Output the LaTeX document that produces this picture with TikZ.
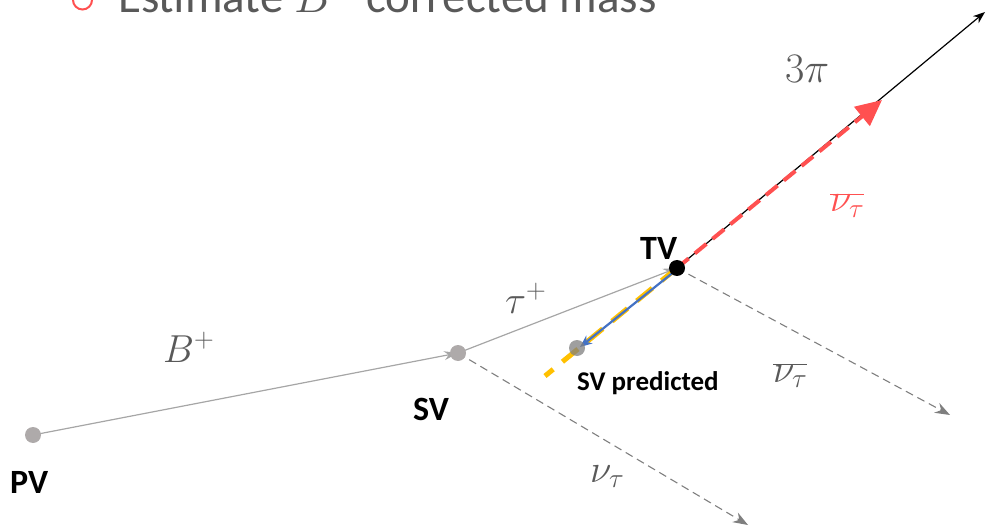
\RequirePackage{fix-cm}
\documentclass[tikz,border=0pt]{standalone}
\usepackage{fontspec}
\setmainfont{Carlito}
\usetikzlibrary{arrows.meta}
\definecolor{lgray}{HTML}{A6A6A6}
\definecolor{dgray}{HTML}{7F7F7F}
\definecolor{tgray}{HTML}{595959}
\definecolor{myred}{HTML}{FF5050}
\definecolor{myyel}{HTML}{FFC000}
\definecolor{myblue}{HTML}{4472C4}
\definecolor{dotgray}{HTML}{AEAAAA}
\begin{document}
\begin{tikzpicture}[x=1pt,y=-1pt,
  vdot/.style={circle, fill=dotgray, inner sep=0pt, minimum size=16pt},
  vlabel/.style={anchor=base west, inner sep=0pt, font=\bfseries\fontsize{34}{40}\selectfont},
  mlabel/.style={anchor=base west, inner sep=0pt, text=tgray, font=\fontsize{39}{42}\selectfont},
  track/.style={draw=lgray, line width=1.2pt, -{Stealth[length=14pt,width=9pt]}},
  nuline/.style={draw=dgray, line width=1.1pt, dash pattern=on 8pt off 5pt, -{Stealth[length=15pt,width=11pt]}}]
\clip (0,0) rectangle (990,529);
% positions
\coordinate (PV) at (33,435);
\coordinate (SV) at (458,353);
\coordinate (TV) at (677,268);
\coordinate (SVP) at (577,348);
\coordinate (pi3) at (985,12);
\coordinate (nubarR) at (882,100);
\coordinate (nubar) at (950,415);
\coordinate (nu) at (748,525);
\coordinate (yelend) at (545,376);
\coordinate (bluestart) at (675,271);
\coordinate (blueend) at (580,347);
% title
\node[circle, draw=myred, line width=2pt, minimum size=19pt, inner sep=0pt] (bullet) at (82.5,0) {};
\node[anchor=base west, inner sep=0pt, text=tgray, font=\fontsize{47}{50}\selectfont] (title) at (118,13) {Estimate $B^+$ corrected mass};
% tracks
\draw[track] (PV) -- (SV);
\draw[track] (SV) -- (TV);
\draw[nuline] (SV) -- (nu);
\draw[nuline] (TV) -- (nubar);
\draw[black, line width=1.2pt, -{Stealth[length=12pt,width=9pt]}] (TV) -- (pi3);
\draw[myred, line width=4pt, dash pattern=on 15pt off 8pt, -{Triangle[length=26pt,width=24pt]}] (TV) -- (nubarR);
\draw[myyel, line width=5pt, dash pattern=on 20pt off 12pt] (TV) -- (yelend);
\draw[myblue, line width=2.2pt, -{Stealth[length=12pt,width=10pt]}] (bluestart) -- (blueend);
% vertices
\node[vdot] (pvdot) at (PV) {};
\node[vdot] (svdot) at (SV) {};
\node[circle, fill=black, inner sep=0pt, minimum size=16pt] (tvdot) at (TV) {};
\node[circle, fill=dgray, fill opacity=0.75, inner sep=0pt, minimum size=16pt] (svpdot) at (SVP) {};
% labels
\node[vlabel] (pvl) at (10,493) {PV};
\node[vlabel] (svl) at (413,420) {SV};
\node[vlabel] (tvl) at (640,260) {TV};
\node[anchor=base west, inner sep=0pt, font=\bfseries\fontsize{27}{30}\selectfont] (svpl) at (577,390) {SV predicted};
\node[mlabel] (bl) at (163,362) {$B^+$};
\node[mlabel] (taul) at (505,313) {$\tau^+$};
\node[mlabel, font=\fontsize{42}{46}\selectfont] (pil) at (785,83) {$3\pi$};
\node[mlabel, text=myred] (nubarRl) at (830,212) {$\overline{\nu_\tau}$};
\node[mlabel] (nubarl) at (773,382) {$\overline{\nu_\tau}$};
\node[mlabel] (nul) at (590,482) {$\nu_\tau$};
\end{tikzpicture}
\end{document}
